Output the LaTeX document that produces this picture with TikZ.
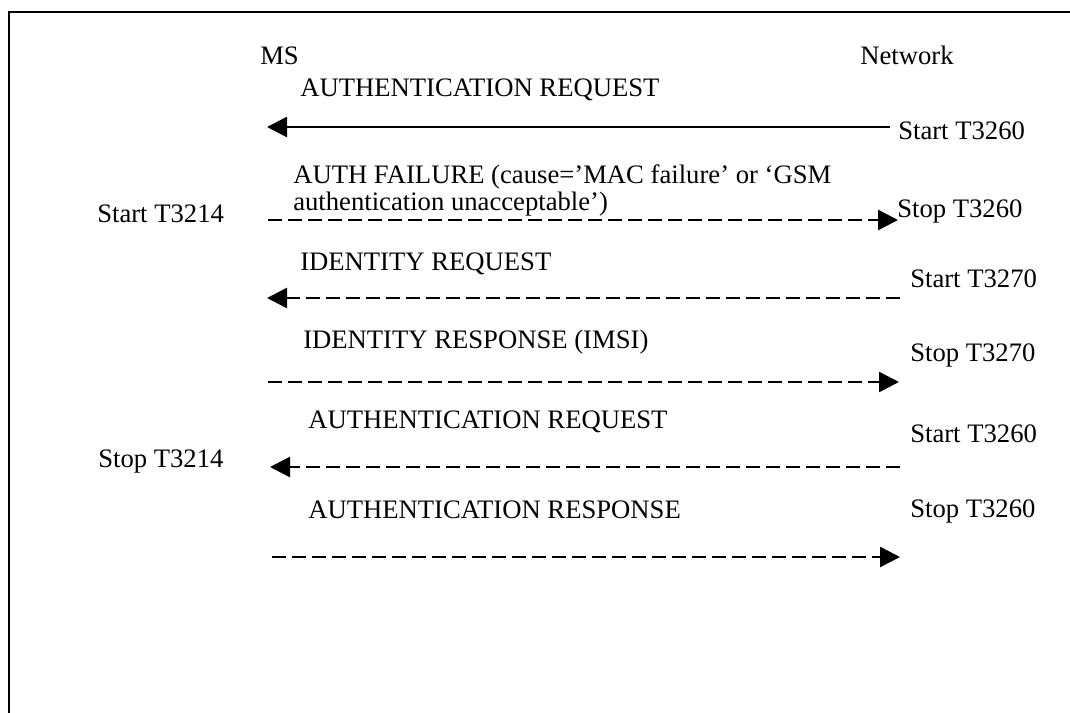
\documentclass[tikz,border=0pt]{standalone}
\usepackage{fontspec}
\setmainfont{Liberation Serif}
\usetikzlibrary{arrows.meta}
\begin{document}
\begin{tikzpicture}[x=0.75pt,y=-0.75pt,
  lbl/.style={anchor=base west,inner sep=0pt,font=\fontsize{20}{23}\selectfont},
  msg/.style={line width=1.9pt,-{Triangle[length=15pt,width=15pt]}},
  dmsg/.style={msg,dash pattern=on 10.5pt off 4.5pt},
  frameline/.style={line width=1.4pt}]
\useasboundingbox (0,0) rectangle (1070,713);
% frame (top and left edges)
\coordinate (fbl) at (9,713);
\coordinate (ftl) at (9,12);
\coordinate (ftr) at (1070,12);
\draw[frameline] (fbl) -- (ftl) -- (ftr);
% entities
\node[lbl] (ms) at (260,65) {MS};
\node[lbl] (net) at (860,65) {Network};
% message labels
\node[lbl] (m1) at (300,97) {AUTHENTICATION REQUEST};
\node[lbl] (m2a) at (293,184) {AUTH FAILURE (cause=’MAC failure’ or ‘GSM};
\node[lbl] (m2b) at (293,210) {authentication unacceptable’)};
\node[lbl] (m3) at (300,270) {IDENTITY REQUEST};
\node[lbl] (m4) at (303,348) {IDENTITY RESPONSE (IMSI)};
\node[lbl] (m5) at (308,428) {AUTHENTICATION REQUEST};
\node[lbl] (m6) at (308,518) {AUTHENTICATION RESPONSE};
% timer labels
\node[lbl] (t1) at (898,140) {Start T3260};
\node[lbl] (t2) at (897,217) {Stop T3260};
\node[lbl] (t3) at (910,287) {Start T3270};
\node[lbl] (t4) at (910,361) {Stop T3270};
\node[lbl] (t5) at (910,442) {Start T3260};
\node[lbl] (t6) at (910,517) {Stop T3260};
\node[lbl] (s1) at (97,222) {Start T3214};
\node[lbl] (s2) at (98,467) {Stop T3214};
% arrow end points
\coordinate (a1n) at (890,127); \coordinate (a1m) at (267,127);
\coordinate (a2m) at (268,220); \coordinate (a2n) at (898,220);
\coordinate (a3n) at (900,298); \coordinate (a3m) at (267,298);
\coordinate (a4m) at (268,382); \coordinate (a4n) at (899,382);
\coordinate (a5n) at (900,467); \coordinate (a5m) at (270,467);
\coordinate (a6m) at (272,557); \coordinate (a6n) at (900,557);
\draw[msg] (a1n) -- (a1m);
\draw[dmsg] (a2m) -- (a2n);
\draw[dmsg] (a3n) -- (a3m);
\draw[dmsg] (a4m) -- (a4n);
\draw[dmsg] (a5n) -- (a5m);
\draw[dmsg] (a6m) -- (a6n);
\end{tikzpicture}
\end{document}
